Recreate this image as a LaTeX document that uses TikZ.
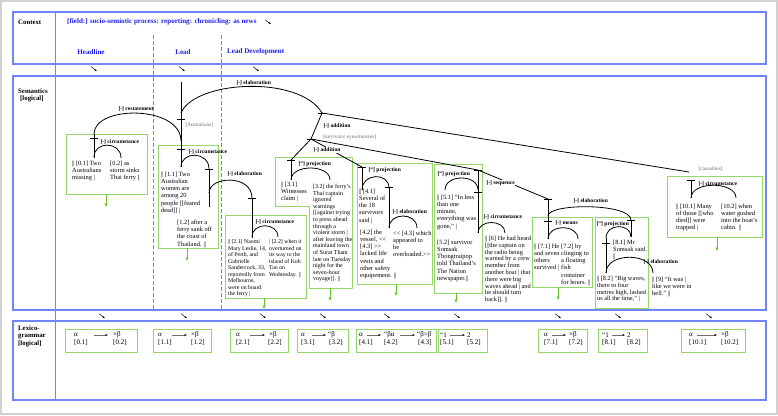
\documentclass[tikz,border=0pt]{standalone}
\usepackage{fontspec}
\setmainfont{Liberation Serif}
\usetikzlibrary{arrows.meta}
\definecolor{pblue}{RGB}{112,134,248}
\definecolor{tblue}{RGB}{30,30,235}
\definecolor{bgreen}{RGB}{150,215,105}
\definecolor{agreen}{RGB}{100,195,40}
\definecolor{lgray}{RGB}{110,110,110}
\newcommand{\DV}{|\kern-0.07em|}
\newcommand{\LLq}{<\kern0pt<}
\newcommand{\RRq}{>\kern0pt>}
\tikzset{
  panel/.style={draw=pblue,line width=1.2pt},
  sepline/.style={draw=pblue,line width=0.8pt},
  dsep/.style={draw=pblue,line width=0.6pt,dash pattern=on 3.5pt off 2.5pt},
  gbox/.style={draw=bgreen,line width=1pt},
  garrow/.style={draw=agreen,line width=0.8pt,-{Latex[length=3.5pt,width=3.5pt]}},
  tree/.style={draw=black,line width=0.8pt},
  tbar/.style={draw=black,line width=1pt},
  txt/.style={anchor=north west,inner sep=0pt,align=left,font=\fontsize{6.4}{7.1}\selectfont},
  stxt/.style={txt,font=\fontsize{5.8}{6.5}\selectfont},
  mtxt/.style={txt,font=\fontsize{6}{6.6}\selectfont},
  ntxt/.style={txt,font=\fontsize{6.3}{6.8}\selectfont},
  lbl/.style={anchor=west,inner sep=0.3pt,font=\bfseries\fontsize{5.6}{6}\selectfont},
  lblw/.style={lbl,fill=white},
  glbl/.style={anchor=west,inner sep=0.3pt,text=lgray,font=\fontsize{5.3}{6}\selectfont},
  headtxt/.style={anchor=west,inner sep=0pt,text=tblue,font=\bfseries\fontsize{7.1}{8}\selectfont},
  rowlbl/.style={anchor=west,inner sep=0pt,font=\bfseries\fontsize{6.8}{7}\selectfont},
  lg/.style={anchor=west,inner sep=0pt,font=\fontsize{7}{8}\selectfont},
  larr/.style={draw=lgray,line width=0.5pt,-{Latex[length=2.5pt,width=2.4pt,color=black]}},
  diag/.style={draw=black,line width=0.5pt,-{Latex[length=2pt,width=2pt]}},
}
\begin{document}
\begin{tikzpicture}[x=1pt,y=-1pt]
\useasboundingbox (0,0) rectangle (778,415);
\fill[white] (0,0) rectangle (778,415);
\draw[black!18,line width=1.5pt] (1,1) rectangle (777,414);

% panels
\draw[panel] (13,12) rectangle (766,64);
\draw[panel] (13,76) rectangle (766,310);
\draw[panel] (13,321) rectangle (766,400);
\draw[sepline] (55,12) -- (55,400);
\draw[dsep] (153,35) -- (153,310);
\draw[dsep] (221,35) -- (221,310);

% context
\node[rowlbl] (ctx) at (18,22) {Context};
\node[headtxt] (field) at (67,22) {[field:] socio-semiotic process: reporting: chronicling: as news};
\node[headtxt,anchor=center] (hl) at (91,52) {Headline};
\node[headtxt,anchor=center] (ld) at (183,52) {Lead};
\node[headtxt] (ldev) at (227,52) {Lead Development};
\node[rowlbl] (sem1) at (18,91) {Semantics};
\node[rowlbl] (sem2) at (20,99) {[logical]};
\node[rowlbl] (lex1) at (18,328) {Lexico-};
\node[rowlbl] (lex2) at (18,336) {grammar};
\node[rowlbl] (lex3) at (18,344) {[logical]};

% small diagonal arrows
\foreach \px/\py in {268/22,94/69,182/69,256/69,102/316,184/316,263/316,323/316,387/316,457/316,558/316,618/316,709/316}
  \draw[diag] (\px-2.8,\py-2.2) -- (\px+2.8,\py+2.2);

% green boxes
\draw[gbox] (66,134) rectangle (147,194);
\draw[gbox] (158,145) rectangle (218,248);
\draw[gbox] (225,215) rectangle (306,298);
\draw[gbox] (275,157) -- (352,157) -- (352,288) -- (309,288) -- (309,206) -- (275,206) -- cycle;
\draw[gbox] (357,163) rectangle (432,284);
\draw[gbox] (434,164) rectangle (482,293);
\draw[gbox] (532,217) rectangle (592,287);
\draw[gbox] (595,217) rectangle (648,308);
\draw[gbox] (667,176) rectangle (762,237);

% green arrows
\foreach \nm/\px/\pa/\pb in {h/106/194/207,a/187/248/261,b/264/298/309,c/330/288/301,d/396/284/296,e/456/293/303,f/558/287/300,g/717/237/251}{
  \coordinate (gs\nm) at (\px,\pa);
  \coordinate (ge\nm) at (\px,\pb);
  \draw[garrow] (gs\nm) -- (ge\nm);
}

% tree coordinates
\coordinate (Ltop) at (181,82);
\coordinate (Lbot) at (181,167);
\coordinate (bL1) at (181,119);
\coordinate (bL2) at (181,149);
\coordinate (Htop) at (94,134);
\coordinate (bH) at (94,138);
\coordinate (Hbot) at (94,158);
\coordinate (b12) at (209,169);
\coordinate (b12e) at (209,207);
\coordinate (b2) at (252,198);
\coordinate (b2e) at (252,238);
\coordinate (bA1) at (322,113);
\coordinate (bA2) at (311,139);
\coordinate (cas) at (689,172);
\coordinate (b3) at (291,160);
\coordinate (b3e) at (291,180);
\coordinate (b4) at (362,167);
\coordinate (b4e) at (362,190);
\coordinate (b43) at (389,187);
\coordinate (b43e) at (389,228);
\coordinate (b5) at (478,170);
\coordinate (b5p) at (478,192);
\coordinate (b5e) at (478,233);
\coordinate (b78) at (548,199);
\coordinate (b7) at (548,221);
\coordinate (b7e) at (548,239);
\coordinate (b8) at (631,220);
\coordinate (b8e) at (631,237);
\coordinate (b82t) at (606,238);
\coordinate (b82) at (606,243);
\coordinate (b82e) at (606,273);
\coordinate (b10) at (691,180);
\coordinate (b10e) at (691,198);

% tree lines
\draw[tree] (Ltop) -- (Lbot);
\draw[tree] (Htop) -- (Hbot);
\draw[tree] (94,134) .. controls (94,105) and (181,105) .. (181,141);
\draw[tree] (181,113) .. controls (195,80) and (300,75) .. (bA1);
\draw[tree] (bA1) -- (bA2);
\draw[tree] (bA1) -- (cas);
\draw[tree] (bA2) -- (b3);
\draw[tree] (bA2) -- (b4);
\draw[tree] (bA2) -- (b5);
\draw[tree] (b5) -- (b78);
\draw[tree] (94,157) .. controls (94,141) and (121,141) .. (121,158);
\draw[tree] (Lbot) .. controls (181,151) and (209,151) .. (b12);
\draw[tree] (b12) -- (b12e);
\draw[tree] (209,193) .. controls (209,176) and (252,174) .. (b2);
\draw[tree] (b2) -- (b2e);
\draw[tree] (252,237) .. controls (252,222) and (278,222) .. (278,237);
\draw[tree] (b3) -- (b3e);
\draw[tree] (b3e) .. controls (291,164) and (330,164) .. (330,180);
\draw[tree] (b4) -- (b4e);
\draw[tree] (b4e) .. controls (362,173) and (389,172) .. (389,188);
\draw[tree] (b43) -- (b43e);
\draw[tree] (b43e) .. controls (389,212) and (417,212) .. (417,228);
\draw[tree] (b5) -- (b5e);
\draw[tree] (445,190) .. controls (445,174) and (478,174) .. (478,190);
\draw[tree] (b5e) .. controls (478,219) and (505,219) .. (505,233);
\draw[tree] (b78) -- (b7e);
\draw[tree] (548,216) .. controls (548,203) and (631,203) .. (b8);
\draw[tree] (b7e) .. controls (548,224) and (578,224) .. (578,239);
\draw[tree] (b8) -- (b8e);
\draw[tree] (b82t) .. controls (606,223) and (631,223) .. (b8e);
\draw[tree] (b82t) -- (b82e);
\draw[tree] (b82e) .. controls (606,252) and (653,252) .. (653,273);
\draw[tree] (b10) -- (b10e);
\draw[tree] (b10e) .. controls (691,181) and (736,181) .. (736,198);

% bars
\foreach \c in {bL1,bL2,bH,b12,b2,bA1,bA2,b3,b4,b43,b5,b5p,b78,b7,b8,b82,b10}
  \draw[tbar] ([xshift=-4pt]\c) -- ([xshift=4pt]\c);

% relation labels
\node[lbl] (l1) at (118,109) {[-] restatement};
\node[lbl] (l2) at (236,83) {[-] elaboration};
\node[lbl] (l3) at (100,142) {[-] circumstance};
\node[glbl] (l4) at (185,125) {[Australians]};
\node[lbl] (l5) at (188,152) {[-] circumstance};
\node[lbl] (l6) at (227,174) {[-] elaboration};
\node[lbl] (l7) at (255,222) {[-] circumstance};
\node[lbl] (l8) at (323,126) {[-] addition};
\node[glbl] (l9) at (322,137) {[survivors/ eyewitnesses]};
\node[lblw] (l10) at (313,150) {[-] addition};
\node[lbl] (l11) at (298,164) {[“] projection};
\node[lbl] (l12) at (368,170) {[“] projection};
\node[lbl] (l13) at (392,212) {[-] elaboration};
\node[lbl] (l14) at (437,174) {[“] projection};
\node[lblw] (l15) at (486,183) {[-] sequence};
\node[lbl] (l16) at (483,217) {[-] circumstance};
\node[lbl] (l17) at (573,201) {[-] elaboration};
\node[lbl] (l18) at (555,223) {[-] means};
\node[lbl] (l19) at (596,224) {[“] projection};
\node[lbl] (l20) at (643,262) {[-] elaboration};
\node[glbl] (l21) at (698,169) {[casualties]};
\node[lbl] (l22) at (698,184) {[-] circumstance};

% clause texts
\node[txt] (t01) at (72,161) {\DV{} [0.1] Two\\Australians\\missing |};
\node[txt] (t02) at (110,161) {[0.2] as\\storm sinks\\Thai ferry \DV};
\node[txt] (t11) at (161,172) {\DV{} [1.1] Two\\Australian\\women are\\among 20\\people [[feared\\dead]] |};
\node[txt] (t12) at (177,220) {[1.2] after a\\ferry sank off\\the coast of\\Thailand. \DV};
\node[stxt] (t21) at (228,239.5) {\DV{} [2.1] Naomi\\Mary Leslie, 14,\\of Perth, and\\Gabrielle\\Sandercock, 33,\\reportedly from\\Melbourne,\\were on board\\the ferry |};
\node[stxt] (t22) at (269,239.5) {| [2.2] when it\\overturned on\\its way to the\\island of Koh\\Tao on\\Wednesday. \DV};
\node[txt] (t31) at (281,182) {\DV{} [3.1]\\Witnesses\\claim |};
\node[mtxt] (t32) at (313,184) {[3.2] the ferry's\\Thai captain\\ignored\\warnings\\{}[[against trying\\to press ahead\\through a\\violent storm |\\after leaving the\\mainland town\\of Surat Thani\\late on Tuesday\\night for the\\seven-hour\\voyage]]. \DV};
\node[txt] (t41) at (359,189) {\DV{} [4.1]\\Several of\\the 18\\survivors\\said |};
\node[txt] (t42) at (360,230) {[4.2] the\\vessel, \LLq\\{}[4.3] \RRq\\lacked life\\vests and\\other safety\\equipement. \DV};
\node[txt] (t43) at (393,231) {\LLq{} [4.3] which\\appeared to\\be\\overloaded.\RRq};
\node[txt] (t51) at (437,195) {\DV{} [5.1] “In less\\than one\\minute,\\everything was\\gone,” |};
\node[txt] (t52) at (437,240) {[5.2] survivor\\Somsak\\Thongtraipop\\told Thailand's\\The Nation\\newspaper.\DV};
\node[ntxt] (t6) at (485,236) {\DV{} [6] He had heard\\{}[[the captain on\\the radio being\\warned by a crew\\member from\\another boat | that\\there were big\\waves ahead | and\\he should turn\\back]]. \DV};
\node[txt] (t71) at (534,244) {\DV{} [7.1] He\\and seven\\others\\survived |};
\node[txt] (t72) at (561,244) {[7.2] by\\clinging to\\a floating\\fish\\container\\for hours. \DV};
\node[txt] (t81) at (613,240) {[8.1] Mr\\Somsak said.\\{}\DV};
\node[ntxt] (t82) at (597,276) {\DV{} [8.2] “Big waves,\\there to four\\metres high, lashed\\us all the time,” |};
\node[txt] (t9) at (652,277) {\DV{} [9] “It was |\\like we were in\\hell.” \DV};
\node[txt] (t101) at (676,204) {\DV{} [10.1] Many\\of those [[who\\died]] were\\trapped |};
\node[txt] (t102) at (721,204) {[10.2] when\\water gushed\\into the boat's\\cabin. \DV};

% lexicogrammar boxes
\foreach \xa/\xb in {65/137,153/211,230/288,297/348,356/436,438/487,538/587,598/647,681/745}
  \draw[gbox] (\xa,329) rectangle (\xb,352);

% lexicogrammar contents
\node[lg] (a0) at (74,335) {α};
\node[lg] (b0) at (113,335) {×β};
\draw[larr] (94,335) -- (108,335);
\node[lg] (c0) at (74,343) {[0.1]};
\node[lg] (d0) at (113,343) {[0.2]};

\node[lg] (a1) at (158,335) {α};
\node[lg] (b1) at (191,335) {×β};
\draw[larr] (172,335) -- (187,335);
\node[lg] (c1) at (158,343) {[1.1]};
\node[lg] (d1) at (191,343) {[1.2]};

\node[lg] (a2) at (236,335) {α};
\node[lg] (b2n) at (269,335) {×β};
\draw[larr] (250,335) -- (265,335);
\node[lg] (c2) at (236,343) {[2.1]};
\node[lg] (d2) at (268,343) {[2.2]};

\node[lg] (a3) at (301,335) {α};
\node[lg] (b3n) at (328,335) {“β};
\draw[larr] (312,335) -- (326,335);
\node[lg] (c3) at (301,343) {[3.1]};
\node[lg] (d3) at (329,343) {[3.2]};

\node[lg] (a4) at (359,335) {α};
\node[lg] (b4n) at (384,335) {“βα};
\node[lg] (e4) at (417,335) {“β=β};
\draw[larr] (367,335) -- (381,335);
\draw[larr] (400,335) -- (415,335);
\node[lg] (c4) at (359,343) {[4.1]};
\node[lg] (d4) at (384,343) {[4.2]};
\node[lg] (f4) at (418,343) {[4.3]};

\node[lg] (a5) at (440,335) {“1};
\node[lg] (b5n) at (467,335) {2};
\draw[larr] (450,335) -- (465,335);
\node[lg] (c5) at (440,343) {[5.1]};
\node[lg] (d5) at (467,343) {[5.2]};

\node[lg] (a7) at (544,335) {α};
\node[lg] (b7n) at (569,335) {×β};
\draw[larr] (552,335) -- (566,335);
\node[lg] (c7) at (544,343) {[7.1]};
\node[lg] (d7) at (569,343) {[7.2]};

\node[lg] (a8) at (602,335) {“1};
\node[lg] (b8n) at (627,335) {2};
\draw[larr] (612,335) -- (625,335);
\node[lg] (c8) at (602,343) {[8.1]};
\node[lg] (d8) at (627,343) {[8.2]};

\node[lg] (a10) at (689,335) {α};
\node[lg] (b10n) at (721,335) {×β};
\draw[larr] (697,335) -- (717,335);
\node[lg] (c10) at (689,343) {[10.1]};
\node[lg] (d10) at (721,343) {[10.2]};
\end{tikzpicture}
\end{document}
